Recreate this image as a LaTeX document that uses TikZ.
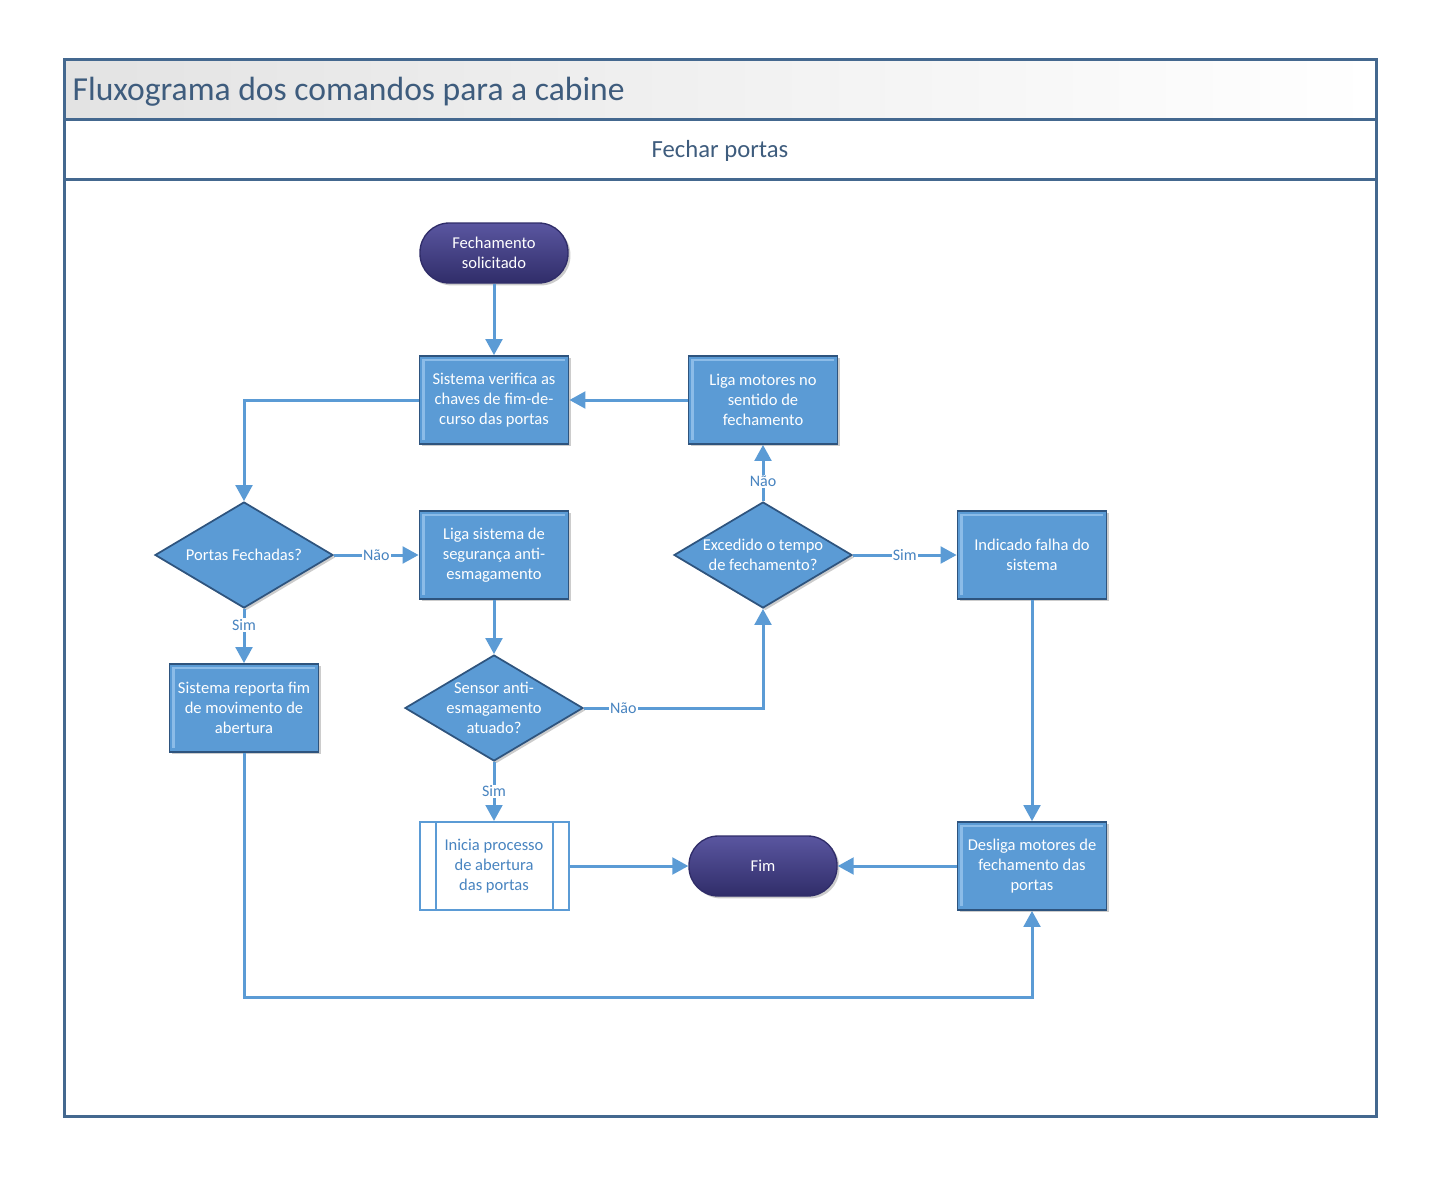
\documentclass[tikz,border=0pt]{standalone}
\usepackage{fontspec}
\setmainfont{Carlito}
\usetikzlibrary{shapes.geometric, arrows.meta, shadows}

\definecolor{boxblue}{RGB}{91,155,213}
\definecolor{boxedge}{RGB}{46,84,126}
\definecolor{boxlight}{RGB}{140,188,232}
\definecolor{termtop}{RGB}{90,86,160}
\definecolor{termbot}{RGB}{48,45,105}
\definecolor{frameblue}{RGB}{68,104,143}
\definecolor{titletxt}{RGB}{62,92,125}
\definecolor{lbltxt}{RGB}{72,132,192}
\definecolor{linkblue}{RGB}{91,155,213}

\begin{document}
\begin{tikzpicture}[x=0.75pt, y=-0.75pt,
  txt/.style={font=\fontsize{12.4}{15}\selectfont, align=center},
  shd/.style={drop shadow={shadow xshift=1.8pt, shadow yshift=-1.8pt, opacity=0.4}},
  proc/.style={txt, shd, draw=boxedge, line width=1.3pt, fill=boxblue, text=white, minimum width=111.75pt, minimum height=66pt, inner sep=1pt,
    path picture={\draw[boxlight, line width=2pt] ([shift={(3pt,3pt)}]path picture bounding box.south west) -- ([shift={(3pt,-3pt)}]path picture bounding box.north west) -- ([shift={(-3pt,-3pt)}]path picture bounding box.north east);}},
  term/.style={txt, shd, rounded corners=22pt, draw=termbot, line width=1pt, top color=termtop, bottom color=termbot, text=white, minimum width=111pt, minimum height=45pt},
  decision/.style={diamond, shd, draw=boxedge, line width=1.3pt, fill=boxblue, minimum width=133.5pt, minimum height=79.5pt, inner sep=0pt},
  dtext/.style={txt, text=white, inner sep=0pt},
  predef/.style={txt, draw=linkblue, line width=1.5pt, fill=white, text=lbltxt, minimum width=111.75pt, minimum height=66pt, inner sep=1pt},
  flow/.style={draw=linkblue, line width=2.25pt, -{Triangle[length=12pt, width=12.5pt]}},
  lbl/.style={fill=white, text=lbltxt, font=\fontsize{12}{14}\selectfont, inner sep=1pt},
]
\useasboundingbox (0,0) rectangle (1441,1184);

% frame of the swimlane
\fill[left color=gray!22, right color=white] (64,60) rectangle (1376,120);
\draw[frameblue, line width=2.25pt] (64,60) rectangle (1376,1116);
\draw[frameblue, line width=2.25pt] (64,120) -- (1376,120);
\draw[frameblue, line width=2.25pt] (64,179) -- (1376,179);
\node[anchor=west, text=titletxt, font=\fontsize{25.2}{29}\selectfont] (title) at (68,92) {Fluxograma dos comandos para a cabine};
\node[text=titletxt, font=\fontsize{18.5}{21}\selectfont] (lane) at (720,151) {Fechar portas};

% steps
\node[term] (start) at (494,253) {Fechamento\\solicitado};
\node[proc] (verif) at (494,400) {Sistema verifica as\\chaves de fim-de-\\curso das portas};
\node[proc] (motor) at (763,400) {Liga motores no\\sentido de\\fechamento};
\node[decision, label={[dtext]center:Portas Fechadas?}] (fech) at (244,555) {};
\node[proc] (seg) at (494,555) {Liga sistema de\\segurança anti-\\esmagamento};
\node[decision, label={[dtext]center:Excedido o tempo\\de fechamento?}] (tempo) at (763,555) {};
\node[proc] (falha) at (1032,555) {Indicado falha do\\sistema};
\node[proc] (reporta) at (244,708) {Sistema reporta fim\\de movimento de\\abertura};
\node[decision, label={[dtext]center:Sensor anti-\\esmagamento\\atuado?}] (sensor) at (494,708) {};
\node[predef] (abre) at (494,866) {Inicia processo\\de abertura\\das portas};
\draw[linkblue, line width=1.5pt] ([xshift=12.75pt]abre.north west) -- ([xshift=12.75pt]abre.south west);
\draw[linkblue, line width=1.5pt] ([xshift=-12.75pt]abre.north east) -- ([xshift=-12.75pt]abre.south east);
\node[term] (fim) at (763,866) {Fim};
\node[proc] (desliga) at (1032,866) {Desliga motores de\\fechamento das\\portas};
\coordinate (volta) at (244,997);

% connectors
\draw[flow] (start) -- (verif);
\draw[flow] (motor) -- (verif);
\draw[flow] (verif.west) -| (fech.north);
\draw[flow] (fech) -- node[lbl]{Não} (seg);
\draw[flow] (fech) -- node[lbl, pos=0.3]{Sim} (reporta);
\draw[flow] (seg) -- (sensor);
\draw[flow] (sensor.east) -| node[lbl, pos=0.11]{Não} (tempo.south);
\draw[flow] (tempo) -- node[lbl, pos=0.35]{Não} (motor);
\draw[flow] (tempo) -- node[lbl]{Sim} (falha);
\draw[flow] (falha) -- (desliga);
\draw[flow] (sensor) -- node[lbl]{Sim} (abre);
\draw[flow] (abre) -- (fim);
\draw[flow] (desliga) -- (fim);
\draw[flow] (reporta.south) -- (volta) -| (desliga.south);
\end{tikzpicture}
\end{document}
